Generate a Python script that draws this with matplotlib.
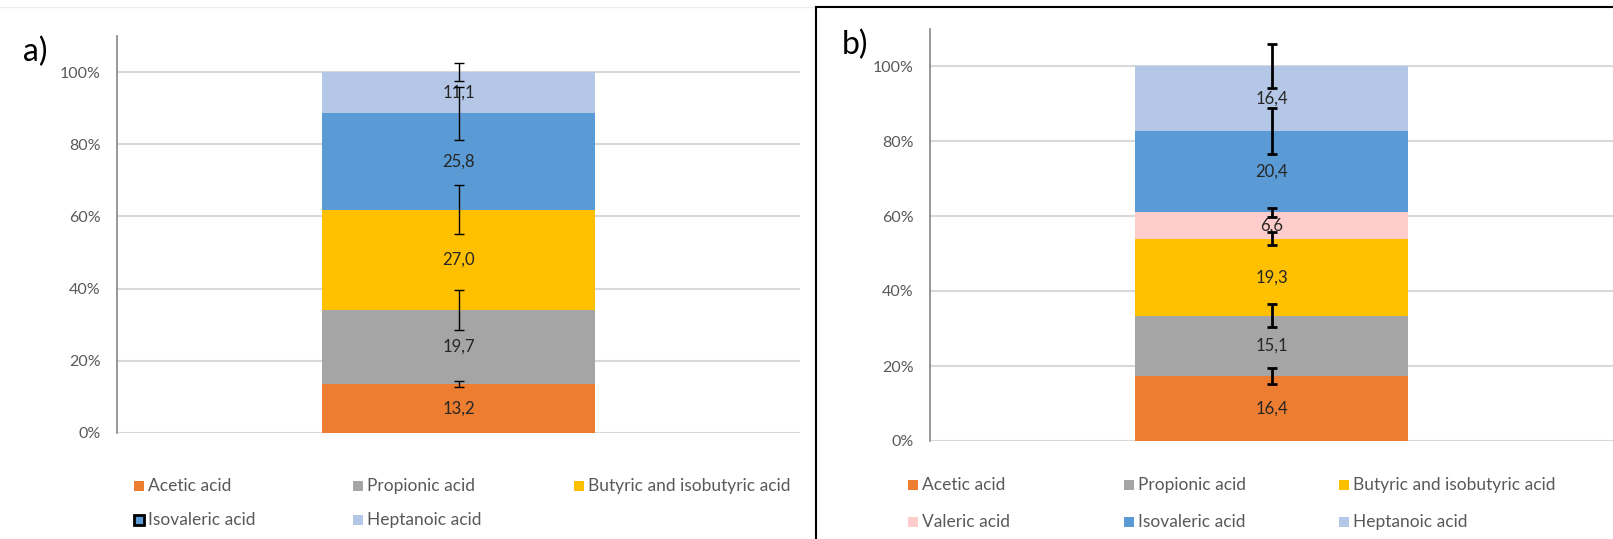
import matplotlib.pyplot as plt
from matplotlib.patches import Rectangle
from matplotlib.lines import Line2D
import numpy as np

# composition of volatile fatty acids, two samples
acids_a = ['Acetic acid', 'Propionic acid', 'Butyric and isobutyric acid',
           'Isovaleric acid', 'Heptanoic acid']
values_a = [13.2, 19.7, 27.0, 25.8, 11.1]
errors_a = [0.8, 5.5, 6.8, 7.4, 2.6]

acids_b = ['Acetic acid', 'Propionic acid', 'Butyric and isobutyric acid',
           'Valeric acid', 'Isovaleric acid', 'Heptanoic acid']
values_b = [16.4, 15.1, 19.3, 6.6, 20.4, 16.4]
errors_b = [2.1, 3.0, 1.75, 1.1, 6.1, 5.9]

colors = {
    'Acetic acid': '#ed7d31',
    'Propionic acid': '#a5a5a5',
    'Butyric and isobutyric acid': '#ffc000',
    'Valeric acid': '#ffcccc',
    'Isovaleric acid': '#5b9bd5',
    'Heptanoic acid': '#b4c7e7',
}

plt.rcParams['font.family'] = ['Lato', 'DejaVu Sans']

W, H = 1613, 539
fig = plt.figure(figsize=(W / 100, H / 100), dpi=100)


def px_axes(left, right, bottom, top):
    return fig.add_axes([left / W, (H - bottom) / H, (right - left) / W, (bottom - top) / H])


def stacked(ax, names, vals, errs, err_lw):
    vals = np.array(vals)
    pct = vals / vals.sum() * 100
    base = 0
    for name, v, p, e in zip(names, vals, pct, errs):
        ax.bar(0.5, p, width=0.4, bottom=base, color=colors[name], zorder=2)
        ax.errorbar(0.5, base + p, yerr=e, color='black', lw=err_lw,
                    capsize=3.5, capthick=err_lw, zorder=4)
        ax.text(0.5, base + p / 2, f'{v:.1f}'.replace('.', ','), ha='center',
                va='center', fontsize=12, color='#262626', zorder=3)
        base += p
    ax.set_xlim(0, 1)
    ax.set_ylim(0, 110)
    ax.set_yticks(range(0, 101, 20))
    ax.set_yticklabels([f'{t}%' for t in range(0, 101, 20)])
    ax.set_xticks([])
    ax.grid(axis='y', color='#d9d9d9', lw=1.5, zorder=0)
    ax.tick_params(axis='y', length=0, pad=12, labelsize=11.5, labelcolor='#595959')
    for s in ['top', 'right', 'bottom']:
        ax.spines[s].set_visible(False)
    ax.spines['left'].set_color('#868686')
    ax.spines['left'].set_linewidth(1.2)


def legend(entries, cols, rows, edge=None):
    for i, name in enumerate(entries):
        x = cols[i % 3]
        y = rows[i // 3]
        ec = 'black' if name == edge else 'none'
        fig.patches.append(Rectangle((x / W, (H - y - 5) / H), 10 / W, 10 / H,
                                     transform=fig.transFigure, facecolor=colors[name],
                                     edgecolor=ec, lw=2 if ec != 'none' else 0))
        fig.text((x + 14) / W, (H - y) / H, name, ha='left', va='center',
                 fontsize=12.5, color='#595959')


ax_a = px_axes(117, 800, 433, 36)
stacked(ax_a, acids_a, values_a, errors_a, 1.0)
ax_b = px_axes(930, 1613, 441, 28.5)
stacked(ax_b, acids_b, values_b, errors_b, 2.0)

legend(acids_a, [134, 353, 574], [486, 520], edge='Isovaleric acid')
legend(acids_b, [908, 1124, 1339], [485, 522])

fig.text(35 / W, (H - 52) / H, 'a)', ha='center', va='center', fontsize=23)
fig.text(855 / W, (H - 45) / H, 'b)', ha='center', va='center', fontsize=23)

# frame lines around the two panels
fig.add_artist(Line2D([0, 815 / W], [(H - 7) / H] * 2, color='#ececec', lw=1))
fig.add_artist(Line2D([816 / W, 816 / W], [0, (H - 7) / H], color='black', lw=1.5))
fig.add_artist(Line2D([816 / W, 1], [(H - 7) / H] * 2, color='black', lw=1.5))

fig.savefig('out.png', dpi=100)
